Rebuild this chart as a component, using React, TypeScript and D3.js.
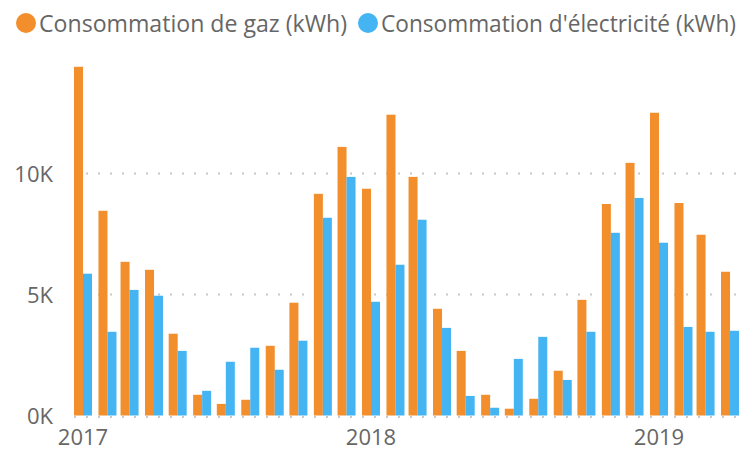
import React from "react";
import * as d3 from "d3";

const months: string[] = [
  "2017-01-01", "2017-02-01", "2017-03-01", "2017-04-01", "2017-05-01", "2017-06-01",
  "2017-07-01", "2017-08-01", "2017-09-01", "2017-10-01", "2017-11-01", "2017-12-01",
  "2018-01-01", "2018-02-01", "2018-03-01", "2018-04-01", "2018-05-01", "2018-06-01",
  "2018-07-01", "2018-08-01", "2018-09-01", "2018-10-01", "2018-11-01", "2018-12-01",
  "2019-01-01", "2019-02-01", "2019-03-01", "2019-04-01",
];

const gasValues: number[] = [
  14410, 8460, 6350, 6020, 3380, 855, 480, 650, 2880, 4660, 9160, 11100,
  9370, 12430, 9860, 4410, 2670, 855, 280, 690, 1850, 4780, 8740, 10440,
  12510, 8780, 7470, 5940,
];

const elecValues: number[] = [
  5860, 3460, 5190, 4950, 2670, 1020, 2220, 2800, 1890, 3090, 8170, 9860,
  4700, 6230, 8090, 3620, 810, 320, 2340, 3250, 1470, 3460, 7550, 8990,
  7140, 3660, 3460, 3500,
];

const seriesNames: string[] = ["Consommation de gaz (kWh)", "Consommation d'électricité (kWh)"];
const yTicks: number[] = [0, 5000, 10000];
const xTickDates: string[] = ["2017-01-01", "2018-01-01", "2019-01-01"];

const W = 744;
const H = 450;
const GAS = "#F28E2B";
const ELEC = "#45B4F3";
const TEXT = "#666666";
const FONT = "'Open Sans', 'Noto Sans', sans-serif";

export default function App() {
  const parse = (s: string) => new Date(s + "T00:00:00Z");
  const x = d3
    .scaleUtc()
    .domain([parse("2017-01-01"), parse("2019-01-01")])
    .range([83, 659]);
  const y = d3.scaleLinear().domain([0, 15000]).range([415.5, 52.5]);
  const barW = 9;
  const fmt = (v: number) => `${v / 1000}K`;

  return (
    <svg
      width={W}
      height={H}
      style={{ position: "absolute", left: 0, top: 0, background: "#fff" }}
      fontFamily={FONT}
    >
      {/* gridlines */}
      {yTicks.map((t) => (
        <line
          key={"g" + t}
          x1={74}
          x2={740}
          y1={t === 0 ? y(t) + 1.5 : y(t)}
          y2={t === 0 ? y(t) + 1.5 : y(t)}
          stroke="#c8c8c8"
          strokeWidth={2}
          strokeDasharray="2,10"
        />
      ))}
      {/* bars */}
      {months.map((m, i) => {
        const cx = x(parse(m));
        return (
          <g key={m}>
            <rect
              x={cx - barW}
              y={y(gasValues[i])}
              width={barW}
              height={y(0) - y(gasValues[i])}
              fill={GAS}
            />
            <rect
              x={cx}
              y={y(elecValues[i])}
              width={barW}
              height={y(0) - y(elecValues[i])}
              fill={ELEC}
            />
          </g>
        );
      })}
      {/* y axis labels */}
      {yTicks.map((t) => (
        <text
          key={"y" + t}
          x={53}
          y={y(t) + 8}
          textAnchor="end"
          fontSize={22}
          fill={TEXT}
        >
          {fmt(t)}
        </text>
      ))}
      {/* x axis labels */}
      {xTickDates.map((d) => (
        <text
          key={d}
          x={x(parse(d))}
          y={445}
          textAnchor="middle"
          fontSize={22}
          fill={TEXT}
        >
          {d.slice(0, 4)}
        </text>
      ))}
      {/* legend */}
      <circle cx={26} cy={23} r={10} fill={GAS} />
      <text x={39} y={32} fontSize={23} fill={TEXT} textLength={308} lengthAdjust="spacingAndGlyphs">
        {seriesNames[0]}
      </text>
      <circle cx={368} cy={23} r={10} fill={ELEC} />
      <text x={381} y={32} fontSize={23} fill={TEXT} textLength={355} lengthAdjust="spacingAndGlyphs">
        {seriesNames[1]}
      </text>
    </svg>
  );
}
